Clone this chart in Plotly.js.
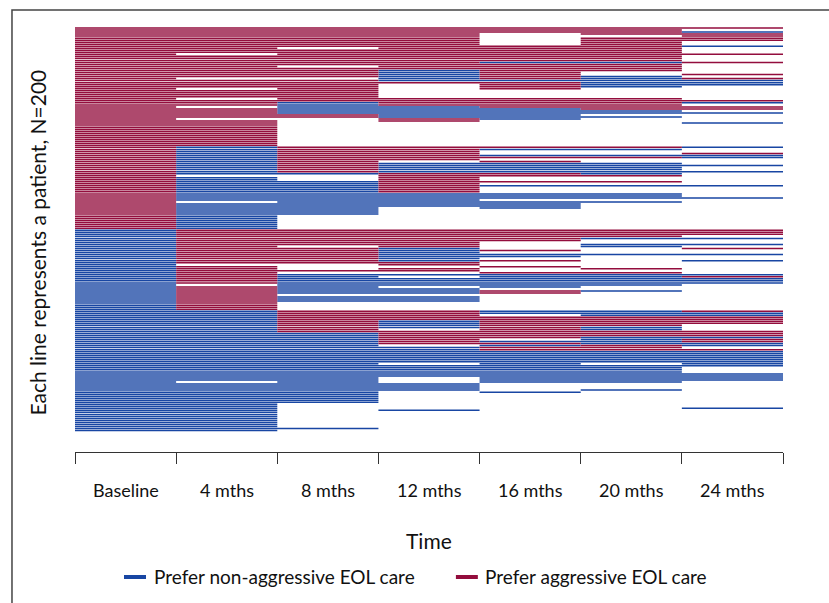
<!DOCTYPE html>
<html>
<head>
<meta charset="utf-8">
<script src="https://cdn.plot.ly/plotly-3.0.1.min.js"></script>
<style>html,body{margin:0;padding:0;background:#fff;}#chart{width:829px;height:603px;}</style>
</head>
<body>
<div id="chart"></div>
<script>
// Time points (columns of the sequence plot)
const timeLabels = ["Baseline", "4 mths", "8 mths", "12 mths", "16 mths", "20 mths", "24 mths"];
// State codes: B = prefer non-aggressive, R = prefer aggressive, . = missing
const stateNames = {B: "Prefer non-aggressive EOL care", R: "Prefer aggressive EOL care"};
// One string per patient (top to bottom), one character per time point
const patients = [
"RRRRRRR","RRRRRR.","RRRRRRB","RRRR.RR","RRRR..R","RRRR.RR","RRRR.RR","RRRR.R.","RRRR.R.","RRRRRRB",
"RR.RRR.","RRRRRR.","RRRRRR.","R.RRRRR","RRRRRR.","RRRRRR.","RRRRRR.","RRRRBBR","RRRRRR.","RR.RRR.",
"RRRRRR.","RRRBRR.","RRRBR..","RRRBR.R","RRRBRB.","R..BRBR","RRRBBBB","RRRRRBB","RRR.RBB","RRR.RB.",
"R.R.R..","RRR....","RRR....","RRR....","RRR....","R.RRRR.","RRRRRRR","RRBRRRB","RRBRRR.","R.BBRRR",
"RRBBBRR","RRBBBB.","RRBBBBB","RRRBB..","RRRBBB.","R..RB..","RR.R...","RR....B","RR.....","RR.....",
"RR.....","RR.....","RR.....","RR.....","RR.....","RR.....","RR.....","RR.....","RR.....",
"RBRRRRB","RBRRBB.","RBRR...","RBRR..R","RBRRBBB","RBRRRRB","RBRR...","RBR.R..","RBRBBB.","RBRBBBB",
"RBRBBB.","RBRBBB.","RBRBBBB","RBBRRB.","R..RRR.","RB.R...","RB.R...","RBBRRR.","RBBR...","RBBRBBB",
"RBBR...","RBBR...","RBBR...","RBBBBB.","RBBBBB.","RBBBBBB","RBBB...","R.BBBB.","RBBBB..","RBBBB..",
"RBB.B..","RBB....","RBB....","RBB....","RB.....","RB.....","RB.....","RB.....","RB.....","RB.....",
"RB.....",
"BRRRRRR","BRRRRRR","BRRRRRR","BRRRRR.","BRRRRBB","BRRRR..","BRRR...","BRRR.BB","BR.R.B.","BRRB..R",
"BRRBR..","BRRB...","BRRBBBB","BRRBB..","BRRB...","BRRBR.B","BRRR...","B..R...","BR..R..","BR.R.R.",
"BRRR...","BR..RR.","BRBBBBB","BRB.BBR","BRBBBBB","BRBBBBB","BRBBBBB","B.BBBB.","BRB.B..","BRBB...",
"BRBBRB.","BRBBR..","BR.....","BRBB...","BRBB...","BRBB...","BR.....","BR.....","BR.....","BR.....",
"BBRRBBR","BBRRBBB","BBRR.BB","BBRRRRR","BBRRRRR","BBRBRRR","BBRBRRR","BBRBRR.","BBRBRB.","BBR.RB.",
"BBRRRRR","BBBRRRR","BBBRRRR","BBBRRBB","BBBR.BR","BBBRBBR","BBBRRBB","BBB.BRB","BBBBRR.","BBBBRRR",
"BBBBBBB","BBBBBBB","BBBBBBB","BBBBBBB","BBBBBBB","BBBBBBB","BBB.B.B","BBBBBBB","BBBBBB.","BBBBBB.",
"BBBBBB.","BBBBBBB","BBBBBBB","BBB.BBB","BBB.BBB","B.B.BB.","BBBB...","BBBB...","BBBB...","BBBB.B.",
"BBB.B..","BBB....","BBB....","BBB....","BBB....","BBB....","BB.....","BB.....","BB....B","BB.B...",
"BB.....","BB.....","BB.....","BB.....","BB.....","BB.....","BB.....","BB.....","BBB....","BB....."
];
const colors = {B: "#1846a3", R: "#930d3d"};

// Build line segments for each state from the patient sequences
const seg = {B: {x: [], y: []}, R: {x: [], y: []}};
patients.forEach(function (s, row) {
  let c = 0;
  while (c < s.length) {
    const st = s[c];
    let e = c;
    while (e + 1 < s.length && s[e + 1] === st) e++;
    if (st === "B" || st === "R") {
      seg[st].x.push(c, e + 1, null);
      seg[st].y.push(row, row, null);
    }
    c = e + 1;
  }
});

const traces = ["B", "R"].map(function (k) {
  return {
    type: "scatter", mode: "lines", name: stateNames[k],
    x: seg[k].x, y: seg[k].y, connectgaps: false,
    line: {color: colors[k], width: 1.5},
    hoverinfo: "skip", showlegend: false
  };
});

const font = "Lato, sans-serif";
const annotations = [];
timeLabels.forEach(function (t, i) {
  annotations.push({x: i + 0.5, xref: "x", y: -0.0892, yref: "paper", text: t,
    showarrow: false, xanchor: "center", yanchor: "middle",
    font: {family: font, size: 18, color: "#111"}});
});
annotations.push({x: 3.5, xref: "x", y: -0.2066, yref: "paper", text: "Time",
  showarrow: false, xanchor: "center", yanchor: "middle",
  font: {family: font, size: 21, color: "#111"}});
annotations.push({x: -0.0523, xref: "paper", y: 0.4918, yref: "paper",
  text: "Each line represents a patient, N=200", textangle: -90,
  showarrow: false, xanchor: "center", yanchor: "middle",
  font: {family: font, size: 21, color: "#111"}});
annotations.push({x: 0.1088, xref: "paper", y: -0.2934, yref: "paper", text: stateNames.B,
  showarrow: false, xanchor: "left", yanchor: "middle",
  font: {family: font, size: 19, color: "#111"}});
annotations.push({x: 0.576, xref: "paper", y: -0.2934, yref: "paper", text: stateNames.R,
  showarrow: false, xanchor: "left", yanchor: "middle",
  font: {family: font, size: 19, color: "#111"}});

const shapes = [
  {type: "rect", xref: "paper", yref: "paper", x0: -0.089, x1: 1.1, y0: -0.45, y1: 1.0376,
   line: {color: "#444", width: 1.5}, fillcolor: "rgba(0,0,0,0)", layer: "above"},
  {type: "line", xref: "paper", yref: "paper", x0: 0.0692, x1: 0.1003, y0: -0.2934, y1: -0.2934,
   line: {color: colors.B, width: 4}},
  {type: "line", xref: "paper", yref: "paper", x0: 0.538, x1: 0.569, y0: -0.2934, y1: -0.2934,
   line: {color: colors.R, width: 4}}
];

const layout = {
  width: 829, height: 603,
  margin: {l: 75, r: 46, t: 26, b: 151, pad: 0},
  paper_bgcolor: "#fff", plot_bgcolor: "#fff",
  showlegend: false,
  xaxis: {range: [0, 7], tickmode: "array", tickvals: [0, 1, 2, 3, 4, 5, 6, 7],
    ticks: "outside", ticklen: 11, tickwidth: 1, tickcolor: "#333",
    showline: true, linecolor: "#333", linewidth: 1, showticklabels: false,
    showgrid: false, zeroline: false, fixedrange: true},
  yaxis: {range: [209.6, -1], visible: false, showgrid: false, zeroline: false, fixedrange: true},
  annotations: annotations,
  shapes: shapes
};

Plotly.newPlot("chart", traces, layout, {displayModeBar: false, staticPlot: true});
</script>
</body>
</html>
